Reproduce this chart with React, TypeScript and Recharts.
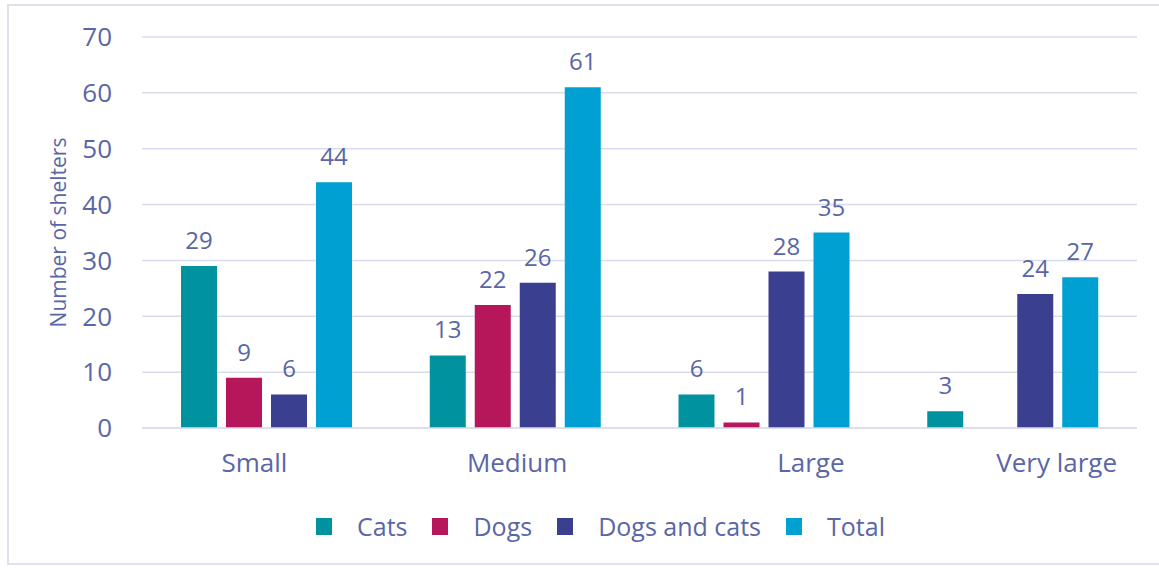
import React from 'react';
import { BarChart, Bar, XAxis, YAxis, CartesianGrid, LabelList, Legend, Label } from 'recharts';

const categories = ['Small', 'Medium', 'Large', 'Very large'];
const cats = [29, 13, 6, 3];
const dogs = [9, 22, 1, 0];
const dogsAndCats = [6, 26, 28, 24];
const total = [44, 61, 35, 27];
const yTicks = [0, 10, 20, 30, 40, 50, 60, 70];

const seriesNames = ['Cats', 'Dogs', 'Dogs and cats', 'Total'];
const seriesKeys = ['cats', 'dogs', 'dogsAndCats', 'total'];
const seriesColors = ['#00939f', '#b5175a', '#3a3f8f', '#00a0d3'];

const data = categories.map((c, i) => ({
  name: c,
  cats: cats[i],
  dogs: dogs[i],
  dogsAndCats: dogsAndCats[i],
  total: total[i],
}));

const TEXT = '#5a66a6';
const GRID = '#d9dcec';
const FONT = '"Open Sans", sans-serif';

const tickShift = [-12, 2, 47, 44];

const XTick = (props: any) => {
  const { x, y, payload, index } = props;
  return (
    <text
      x={x + (tickShift[index] ?? 0)}
      y={y + 34}
      textAnchor="middle"
      dominantBaseline="central"
      fill={TEXT}
      fontSize={26}
      fontFamily={FONT}
    >
      {payload.value}
    </text>
  );
};

const YTitle = (props: any) => {
  const vb = props.viewBox || { x: 0, y: 37, height: 391 };
  const cx = 58;
  const cy = vb.y + vb.height / 2;
  return (
    <text
      x={cx}
      y={cy}
      transform={`rotate(-90 ${cx} ${cy})`}
      textAnchor="middle"
      dominantBaseline="central"
      fill={TEXT}
      fontSize={21}
      fontFamily={FONT}
    >
      Number of shelters
    </text>
  );
};

const LegendContent = () => (
  <div style={{ display: 'flex', alignItems: 'center', height: 34, fontFamily: FONT, fontSize: 25, color: TEXT, whiteSpace: 'nowrap' }}>
    {seriesNames.map((n, i) => (
      <div key={n} style={{ display: 'flex', alignItems: 'center', marginRight: 25 }}>
        <span style={{ display: 'inline-block', width: 16, height: 17, background: seriesColors[i], marginRight: 25 }} />
        <span>{n}</span>
      </div>
    ))}
  </div>
);

const fmt = (v: any) => (v === 0 ? '' : v);

export default function App() {
  return (
    <div style={{ position: 'fixed', left: 0, top: 0, width: 1159, height: 568, background: '#fff' }}>
      <div
        style={{
          position: 'absolute',
          left: 7,
          top: 4,
          width: 1160,
          height: 561,
          border: '2px solid #e0e1ec',
          boxSizing: 'border-box',
        }}
      />
      <div style={{ position: 'absolute', left: 0, top: 0 }}>
        <BarChart
          width={1159}
          height={568}
          data={data}
          margin={{ top: 37, right: 22, bottom: 110, left: 0 }}
          barGap={9}
          barCategoryGap={39}
          style={{ fontFamily: FONT }}
        >
          <CartesianGrid vertical={false} stroke={GRID} strokeWidth={1.5} />
          <XAxis
            dataKey="name"
            axisLine={{ stroke: GRID, strokeWidth: 1.5 }}
            tickLine={false}
            tickSize={0}
            tickMargin={0}
            tick={<XTick />}
            interval={0}
          />
          <YAxis
            width={142}
            domain={[0, 70]}
            ticks={yTicks}
            axisLine={false}
            tickLine={false}
            tickSize={0}
            tickMargin={30}
            tick={{ fill: TEXT, fontSize: 26, fontFamily: FONT }}
          >
            <Label content={<YTitle />} />
          </YAxis>
          <Legend
            layout="horizontal"
            verticalAlign="middle"
            align="center"
            wrapperStyle={{ left: 316, top: 509, width: 800 }}
            content={<LegendContent />}
          />
          {seriesKeys.map((k, i) => (
            <Bar key={k} dataKey={k} name={seriesNames[i]} fill={seriesColors[i]} isAnimationActive={false}>
              <LabelList dataKey={k} position="top" offset={17} fill={TEXT} fontSize={24} fontFamily={FONT} formatter={fmt} />
            </Bar>
          ))}
        </BarChart>
      </div>
    </div>
  );
}
